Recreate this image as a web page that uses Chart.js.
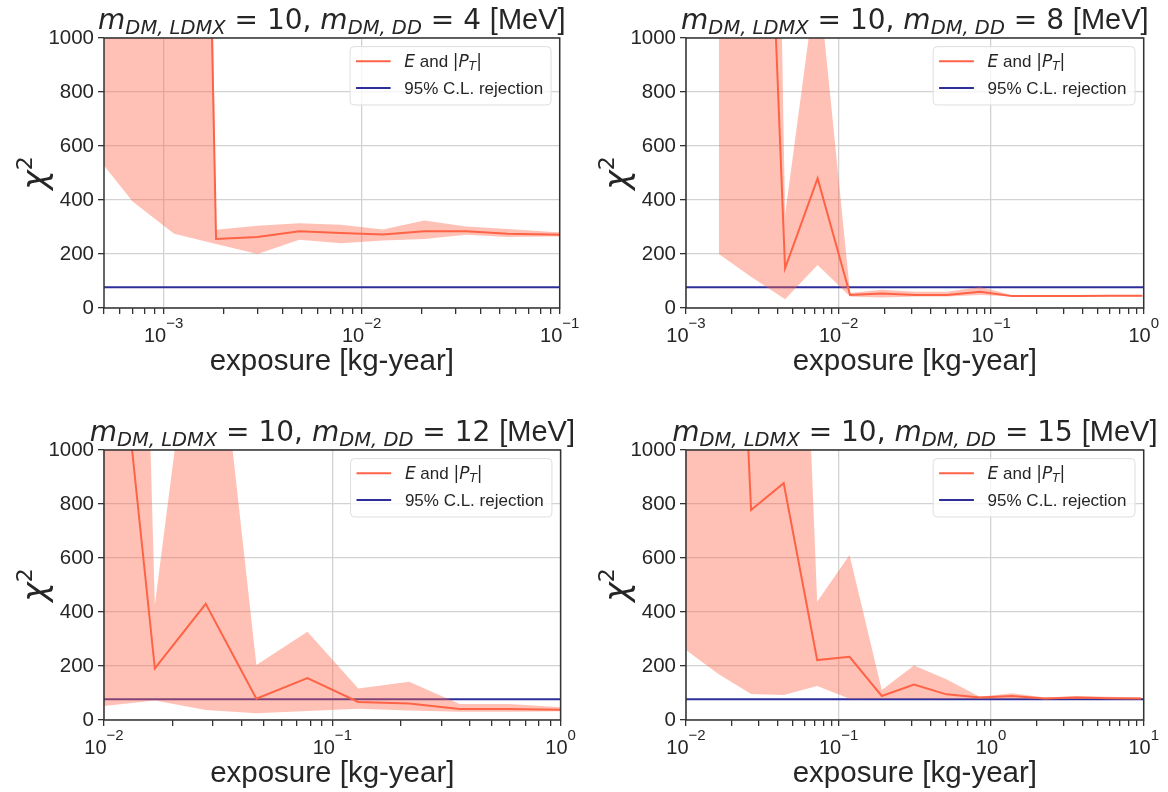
<!DOCTYPE html>
<html>
<head>
<meta charset="utf-8">
<script src="https://cdn.jsdelivr.net/npm/chart.js@4.4.1/dist/chart.umd.min.js"></script>
<style>
  html, body { margin: 0; padding: 0; background: #fff; }
  #fig { position: relative; width: 1168px; height: 792px; }
  canvas { position: absolute; }
</style>
</head>
<body>
<div id="fig">
  <canvas id="c1" width="584" height="396" style="left:0;top:0"></canvas>
  <canvas id="c2" width="584" height="396" style="left:584px;top:0"></canvas>
  <canvas id="c3" width="584" height="396" style="left:0;top:396px"></canvas>
  <canvas id="c4" width="584" height="396" style="left:584px;top:396px"></canvas>
</div>
<script>
// chi^2 at 95% C.L. (horizontal line)
const rejection = 77;
const yTickLabels = [0, 200, 400, 600, 800, 1000];

// m_DD = 4 MeV
const exposure4 = [4.28e-4, 6.97e-4, 1.13e-3, 1.84e-3, 2.98e-3, 4.84e-3, 7.85e-3, 1.28e-2, 2.07e-2, 3.37e-2, 5.46e-2, 8.87e-2, 0.144];
const chi2_4    = [20000, 15000, 8000, 256, 263, 284, 278, 272, 284, 284, 275, 272, 271];
const upper4    = [25000, 20000, 11000, 290, 305, 314, 308, 291, 324, 302, 293, 282, 278];
const lower4    = [590, 394, 275, 237, 200, 253, 240, 250, 256, 271, 263, 265, 266];
const xlim4 = [5e-4, 1e-1];
const decades4 = [-3, -2, -1];

// m_DD = 8 MeV
const exposure8 = [1.64e-3, 2.68e-3, 4.46e-3, 7.29e-3, 1.19e-2, 1.92e-2, 3.18e-2, 5.13e-2, 8.47e-2, 0.137, 0.224, 0.366, 0.600, 0.98];
const chi2_8    = [9000, 3300, 147, 480, 48, 54, 48, 48, 60, 44, 44, 44, 45, 45];
const upper8    = [12000, 7500, 345, 1250, 56, 68, 60, 60, 78, 48, 46, 46, 46, 46];
const lower8    = [200, 115, 32, 159, 43, 39, 43, 43, 48, 43, 42, 42, 43, 43];
const xlim8 = [1e-3, 1];
const decades8 = [-3, -2, -1, 0];

// m_DD = 12 MeV
const exposure12 = [1.0e-2, 1.67e-2, 2.79e-2, 4.65e-2, 7.78e-2, 0.130, 0.217, 0.361, 0.594, 1.0];
const chi2_12    = [2000, 191, 430, 79, 155, 67, 61, 41, 41, 38];
const upper12    = [7200, 426, 1900, 204, 327, 117, 142, 59, 59, 47];
const lower12    = [52, 72, 37, 25, 33, 42, 35, 31, 31, 32];
const xlim12 = [1e-2, 1];
const decades12 = [-2, -1, 0];

// m_DD = 15 MeV
const exposure15 = [1.0e-2, 1.63e-2, 2.67e-2, 4.37e-2, 7.24e-2, 0.118, 0.192, 0.312, 0.509, 0.843, 1.37, 2.25, 3.64, 5.9, 9.6];
const chi2_15    = [6000, 3450, 778, 877, 222, 234, 89, 131, 95, 83, 89, 80, 83, 81, 80];
const upper15    = [9000, 8000, 5000, 3560, 438, 611, 111, 202, 151, 86, 99, 83, 89, 86, 83];
const lower15    = [259, 170, 96, 93, 126, 79, 80, 80, 79, 79, 80, 78, 79, 79, 79];
const xlim15 = [1e-2, 10];
const decades15 = [-2, -1, 0, 1];

const RED = '#ff6347';
const BAND = 'rgba(255, 99, 71, 0.4)';
const BLUE = '#2e2e9a';
const GRID = '#d2d2d2';
const AXIS = '#333333';
const TEXT = '#262626';

function pts(xs, ys) {
  return xs.map((x, i) => ({ x: x, y: ys[i] }));
}

function isDecade(v) {
  if (!v) return false;
  const l = Math.log10(v);
  return Math.abs(l - Math.round(l)) < 1e-6;
}

function logTicks(lim) {
  const out = [];
  for (let e = Math.floor(Math.log10(lim[0])); e <= Math.ceil(Math.log10(lim[1])); e++) {
    for (let m = 1; m <= 9; m++) {
      const v = m * Math.pow(10, e);
      if (v >= lim[0] * (1 - 1e-9) && v <= lim[1] * (1 + 1e-9)) out.push(v);
    }
  }
  return out;
}

// draws a run of text pieces (font, vertical shift), centred on x unless align is 'left'
function drawRich(ctx, pieces, x, baseline, align) {
  let total = 0;
  pieces.forEach(p => { ctx.font = p.font; p.w = ctx.measureText(p.t).width; total += p.w; });
  let cur = align === 'left' ? x : x - total / 2;
  ctx.textAlign = 'left';
  ctx.textBaseline = 'alphabetic';
  pieces.forEach(p => {
    ctx.font = p.font;
    ctx.fillText(p.t, cur, baseline + (p.dy || 0));
    cur += p.w;
  });
}

const decor = {
  id: 'decor',
  afterDraw(chart, args, opts) {
    const ctx = chart.ctx;
    const a = chart.chartArea;
    const W = a.right - a.left, H = a.bottom - a.top;
    ctx.save();

    // spines
    ctx.strokeStyle = AXIS;
    ctx.lineWidth = 1.5;
    ctx.strokeRect(a.left, a.top, W, H);

    ctx.fillStyle = TEXT;

    // x tick labels 10^n
    const xs = chart.scales.x;
    opts.decades.forEach(e => {
      const px = xs.getPixelForValue(Math.pow(10, e));
      const exp = e < 0 ? '\u2212' + (-e) : String(e);
      drawRich(ctx, [
        { t: '10', font: '20px "Liberation Sans"' },
        { t: exp, font: '15px "Liberation Sans"', dy: -14 }
      ], px, a.bottom + 34);
    });

    // x axis title
    ctx.font = '29.5px "Liberation Sans"';
    ctx.textAlign = 'center';
    ctx.textBaseline = 'alphabetic';
    ctx.fillText('exposure [kg-year]', (a.left + a.right) / 2, a.bottom + 62);

    // y axis title chi^2
    ctx.save();
    ctx.translate(a.left - 58, (a.top + a.bottom) / 2);
    ctx.rotate(-Math.PI / 2);
    drawRich(ctx, [
      { t: '\u03c7', font: 'italic 33px "DejaVu Sans"' },
      { t: '2', font: '22px "DejaVu Sans"', dy: -14 }
    ], 0, 0);
    ctx.restore();

    // panel title
    drawRich(ctx, [
      { t: 'm', font: 'italic 28px "DejaVu Sans"' },
      { t: 'DM, LDMX', font: 'italic 19.5px "DejaVu Sans"', dy: 5 },
      { t: ' = 10, ', font: '28px "DejaVu Sans"' },
      { t: 'm', font: 'italic 28px "DejaVu Sans"' },
      { t: 'DM, DD', font: 'italic 19.5px "DejaVu Sans"', dy: 5 },
      { t: ' = ' + opts.mdd + ' ', font: '28px "DejaVu Sans"' },
      { t: '[MeV]', font: '29px "Liberation Sans"' }
    ], (a.left + a.right) / 2, a.top - 9);

    // legend
    const bx0 = a.left + 0.540 * W, bx1 = a.left + 0.981 * W;
    const by0 = a.top + 0.032 * H, by1 = a.top + 0.248 * H;
    ctx.beginPath();
    ctx.roundRect(bx0, by0, bx1 - bx0, by1 - by0, 4);
    ctx.fillStyle = 'rgba(255,255,255,0.8)';
    ctx.fill();
    ctx.strokeStyle = '#dedede';
    ctx.lineWidth = 1;
    ctx.stroke();

    const rows = [a.top + 0.0863 * H, a.top + 0.185 * H];
    const lx0 = a.left + 0.553 * W, lx1 = a.left + 0.629 * W, tx = a.left + 0.659 * W;
    [RED, BLUE].forEach((c, i) => {
      ctx.beginPath();
      ctx.moveTo(lx0, rows[i]);
      ctx.lineTo(lx1, rows[i]);
      ctx.strokeStyle = c;
      ctx.lineWidth = 2;
      ctx.stroke();
    });
    ctx.fillStyle = TEXT;
    drawRich(ctx, [
      { t: 'E', font: 'italic 17px "DejaVu Sans"' },
      { t: ' and ', font: '17px "Liberation Sans"' },
      { t: '|', font: '17px "DejaVu Sans"' },
      { t: 'P', font: 'italic 17px "DejaVu Sans"' },
      { t: 'T', font: 'italic 12px "DejaVu Sans"', dy: 3 },
      { t: '|', font: '17px "DejaVu Sans"' }
    ], tx, rows[0] + 6, 'left');
    drawRich(ctx, [
      { t: '95% C.L. rejection', font: '17px "Liberation Sans"' }
    ], tx, rows[1] + 6, 'left');

    ctx.restore();
  }
};

function makePanel(id, p) {
  return new Chart(document.getElementById(id), {
    type: 'line',
    data: {
      datasets: [
        { data: pts(p.x, p.upper), borderColor: 'rgba(0,0,0,0)', borderWidth: 0, pointRadius: 0, fill: '+1', backgroundColor: BAND },
        { data: pts(p.x, p.lower), borderColor: 'rgba(0,0,0,0)', borderWidth: 0, pointRadius: 0, fill: false },
        { data: pts(p.x, p.chi2), borderColor: RED, borderWidth: 2, pointRadius: 0, fill: false },
        { data: p.xlim.map(v => ({ x: v, y: rejection })), borderColor: BLUE, borderWidth: 2, pointRadius: 0, fill: false }
      ]
    },
    options: {
      responsive: false,
      animation: false,
      devicePixelRatio: 1,
      layout: { padding: { top: p.top, right: p.right, left: 0, bottom: 0 } },
      plugins: {
        legend: { display: false },
        tooltip: { enabled: false },
        decor: { decades: p.decades, mdd: p.mdd }
      },
      scales: {
        x: {
          type: 'logarithmic',
          min: p.xlim[0],
          max: p.xlim[1],
          afterFit: s => { s.height = p.xh; },
          afterBuildTicks: s => { s.ticks = logTicks(p.xlim).map(v => ({ value: v })); },
          ticks: { display: false },
          grid: {
            color: c => (c.tick && isDecade(c.tick.value)) ? GRID : 'rgba(0,0,0,0)',
            lineWidth: 1.3,
            tickColor: AXIS,
            tickLength: 6,
            tickWidth: 1.3
          },
          border: { display: false }
        },
        y: {
          min: 0,
          max: 1000,
          afterFit: s => { s.width = p.yw; },
          ticks: {
            stepSize: 100,
            callback: v => yTickLabels.includes(v) ? String(v) : '',
            font: { family: 'Liberation Sans', size: 20.5 },
            color: TEXT,
            padding: 4
          },
          grid: { color: GRID, lineWidth: 1.3, tickColor: AXIS, tickLength: 6, tickWidth: 1.3 },
          border: { display: false }
        }
      }
    },
    plugins: [decor]
  });
}

makePanel('c1', { x: exposure4, chi2: chi2_4, upper: upper4, lower: lower4, xlim: xlim4, decades: decades4, mdd: '4', top: 38, right: 24.3, yw: 104, xh: 88 });
makePanel('c2', { x: exposure8, chi2: chi2_8, upper: upper8, lower: lower8, xlim: xlim8, decades: decades8, mdd: '8', top: 38, right: 24.3, yw: 102, xh: 88 });
makePanel('c3', { x: exposure12, chi2: chi2_12, upper: upper12, lower: lower12, xlim: xlim12, decades: decades12, mdd: '12', top: 54, right: 23.4, yw: 104, xh: 72 });
makePanel('c4', { x: exposure15, chi2: chi2_15, upper: upper15, lower: lower15, xlim: xlim15, decades: decades15, mdd: '15', top: 54, right: 24.3, yw: 102, xh: 72 });
</script>
</body>
</html>
